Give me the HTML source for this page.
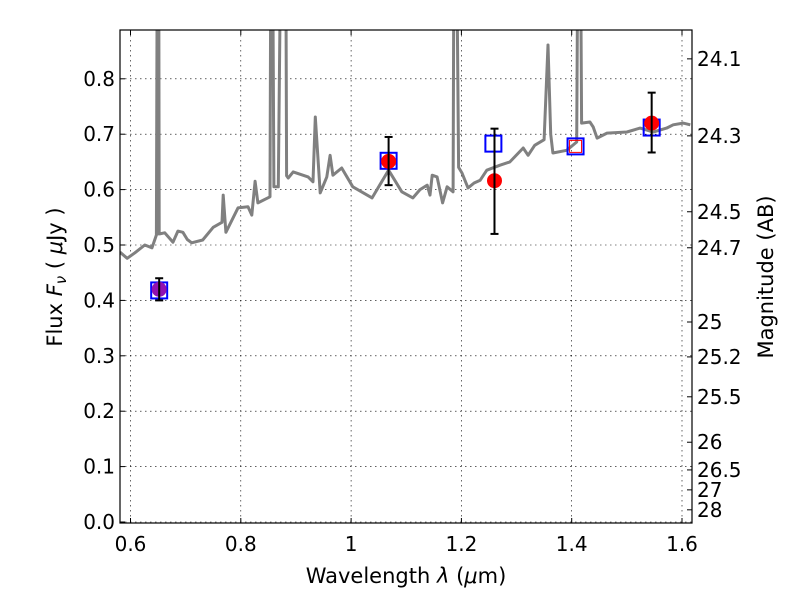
<!DOCTYPE html>
<html><head><meta charset="utf-8"><style>
body{margin:0;background:#fff}
svg{display:block;font-family:"DejaVu Sans","Liberation Sans",sans-serif}
</style></head><body>
<svg id="chart" width="800" height="600" viewBox="0 0 800 600"></svg>
<script>
const xTicks=[0.6,0.8,1.0,1.2,1.4,1.6];
const xTickLabels=["0.6","0.8","1","1.2","1.4","1.6"];
const yTicks=[0,0.1,0.2,0.3,0.4,0.5,0.6,0.7,0.8];
const yTickLabels=["0.0","0.1","0.2","0.3","0.4","0.5","0.6","0.7","0.8"];
const magLabels=["24.1","24.3","24.5","24.7","25","25.2","25.5","26","26.5","27","28"];
const magFlux=[0.836,0.697,0.560,0.495,0.361,0.298,0.226,0.144,0.094,0.058,0.022];
const specWave=[0.581,0.594,0.608,0.626,0.639,0.647,0.649,0.650,0.651,0.652,0.653,0.662,0.677,0.686,0.695,0.703,0.711,0.731,0.750,0.766,0.768,0.773,0.795,0.813,0.820,0.826,0.831,0.853,0.855,0.857,0.860,0.868,0.874,0.876,0.881,0.883,0.886,0.895,0.922,0.931,0.935,0.944,0.956,0.962,0.967,0.983,1.003,1.038,1.065,1.068,1.092,1.112,1.125,1.138,1.143,1.147,1.156,1.166,1.174,1.185,1.187,1.190,1.195,1.201,1.212,1.223,1.234,1.246,1.270,1.288,1.312,1.321,1.333,1.350,1.357,1.362,1.366,1.391,1.409,1.412,1.415,1.418,1.433,1.439,1.446,1.464,1.500,1.524,1.548,1.572,1.584,1.602,1.615];
const specFlux=[0.487,0.476,0.486,0.500,0.495,0.518,1.2,0.52,1.2,0.52,0.520,0.522,0.505,0.525,0.523,0.510,0.504,0.509,0.532,0.541,0.590,0.523,0.567,0.569,0.554,0.615,0.576,0.587,1.2,1.2,0.605,0.605,1.2,1.2,1.2,0.625,0.621,0.632,0.623,0.614,0.731,0.594,0.623,0.662,0.626,0.639,0.605,0.585,0.630,0.635,0.596,0.585,0.600,0.608,0.590,0.626,0.623,0.576,0.605,0.596,1.2,1.2,0.640,0.630,0.603,0.612,0.617,0.635,0.644,0.650,0.675,0.662,0.680,0.690,0.861,0.700,0.666,0.671,0.686,1.2,1.2,0.720,0.722,0.713,0.693,0.702,0.704,0.711,0.704,0.711,0.717,0.720,0.717];
const obsWave=[0.652,1.068,1.26,1.545];
const obsFlux=[0.42,0.651,0.616,0.72];
const obsLo=[0.40,0.608,0.52,0.667];
const obsHi=[0.44,0.695,0.71,0.775];
const obsColor=["#9010b0","red","red","red"];
const modelWave=[0.652,1.068,1.258,1.407,1.545];
const modelFlux=[0.418,0.652,0.683,0.678,0.712];

const L=120,R=692,T=30,B=523;
const X=v=>130.5+(v-0.6)*551.5;
const Y=v=>522-v*554;
const svg=document.getElementById('chart');
const NS='http://www.w3.org/2000/svg';
function mk(tag,attrs,parent){const e=document.createElementNS(NS,tag);for(const k in attrs)e.setAttribute(k,attrs[k]);(parent||svg).appendChild(e);return e;}
const defs=mk('defs',{});const cp=mk('clipPath',{id:'clip'},defs);mk('rect',{x:L,y:T,width:R-L,height:B-T},cp);

const grid=mk('g',{stroke:'#000','stroke-width':0.6,'stroke-dasharray':'1.5,3.5'});


xTicks.forEach(t=>mk('line',{x1:X(t),x2:X(t),y1:T,y2:B},grid));
yTicks.forEach(t=>mk('line',{x1:L,x2:R,y1:Y(t),y2:Y(t)},grid));

const plot=mk('g',{'clip-path':'url(#clip)'});
const pts=specWave.map((w,i)=>X(w).toFixed(1)+','+Y(specFlux[i]).toFixed(1)).join(' ');
const spec=mk('polyline',{points:pts,fill:'none',stroke:'#808080','stroke-width':3,'stroke-linejoin':'round'},plot);



modelWave.forEach((w,i)=>{
 const s=mk('rect',{x:X(w)-8,y:Y(modelFlux[i])-8,width:16,height:16,fill:'none',stroke:'#0000ff','stroke-width':2},plot);
 
 
});
obsWave.forEach((w,i)=>{
 const g=mk('g',{},plot);
 
 
 mk('circle',{cx:X(w),cy:Y(obsFlux[i]),r:7.5,fill:obsColor[i]},g);
 mk('line',{x1:X(w),x2:X(w),y1:Y(obsLo[i]),y2:Y(obsHi[i]),stroke:'#000','stroke-width':2},g);
 mk('line',{x1:X(w)-4,x2:X(w)+4,y1:Y(obsLo[i]),y2:Y(obsLo[i]),stroke:'#000','stroke-width':2},g);
 mk('line',{x1:X(w)-4,x2:X(w)+4,y1:Y(obsHi[i]),y2:Y(obsHi[i]),stroke:'#000','stroke-width':2},g);
});
const rs=mk('rect',{x:X(1.407)-6,y:Y(0.678)-6,width:12,height:12,fill:'none',stroke:'red','stroke-width':1},plot);



const ax=mk('rect',{x:L,y:T,width:R-L,height:B-T,fill:'none',stroke:'#000','stroke-width':1.2});



xTicks.forEach((t,i)=>{
 mk('line',{x1:X(t),x2:X(t),y1:B,y2:B-5,stroke:'#000'});
 mk('line',{x1:X(t),x2:X(t),y1:T,y2:T+5,stroke:'#000'});
 const tx=mk('text',{x:X(t),y:B+28,'font-size':20,'text-anchor':'middle'});tx.textContent=xTickLabels[i];
 
 
});
yTicks.forEach((t,i)=>{
 mk('line',{x1:L,x2:L+5,y1:Y(t),y2:Y(t),stroke:'#000'});
 const tx=mk('text',{x:L-5,y:Y(t)+7,'font-size':20,'text-anchor':'end'});tx.textContent=yTickLabels[i];
 
 
});
magFlux.forEach((f,i)=>{
 mk('line',{x1:R,x2:R-5,y1:Y(f),y2:Y(f),stroke:'#000'});
 const tx=mk('text',{x:R+5,y:Y(f)+7,'font-size':20});tx.textContent=magLabels[i];
 
 
});
</script>
<svg width="800" height="600" style="position:absolute;left:0;top:0;font-family:'DejaVu Sans','Liberation Sans',sans-serif">
<text x="406" y="583" font-size="21" text-anchor="middle">Wavelength  <tspan font-style="italic">λ</tspan> (<tspan font-style="italic">μ</tspan>m)</text>
<text transform="translate(62,277) rotate(-90)" font-size="21" text-anchor="middle">Flux  <tspan font-style="italic">F<tspan font-size="15" dy="4">ν</tspan></tspan><tspan dy="-4">  (  </tspan><tspan font-style="italic">μ</tspan>Jy )</text>
<text transform="translate(773,277) rotate(-90)" font-size="21" text-anchor="middle">Magnitude (AB)</text>
</svg>
</body></html>
